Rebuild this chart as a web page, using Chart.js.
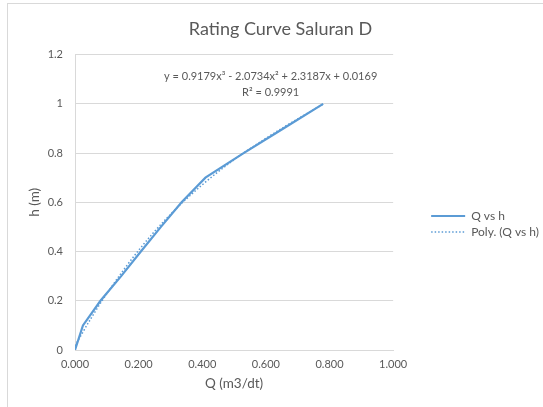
<!DOCTYPE html>
<html>
<head>
<meta charset="utf-8">
<script src="https://cdn.jsdelivr.net/npm/chart.js@4.4.1/dist/chart.umd.min.js"></script>
<style>
  html, body { margin: 0; padding: 0; background: #ffffff; overflow: hidden; }
  #box { position: absolute; left: 7px; top: 3px; width: 546px; height: 420px; border: 1px solid #d9d9d9; }
</style>
</head>
<body>
<div id="box"><canvas id="ratingChart" width="546" height="420"></canvas></div>
<script>
// measured data, Q (m3/dt) vs h (m)
const dischargeQ = [0, 0.025, 0.08, 0.145, 0.207, 0.27, 0.335, 0.41, 0.53, 0.655, 0.78];
const depthH = [0, 0.1, 0.2, 0.3, 0.4, 0.5, 0.6, 0.7, 0.8, 0.9, 1.0];

// dotted polynomial trendline
const trendQ = [0, 0.05, 0.1, 0.2, 0.3, 0.4, 0.5, 0.6, 0.7, 0.78];
const trendH = [0.017, 0.128, 0.229, 0.405, 0.551, 0.671, 0.773, 0.86, 0.939, 0.999];

const xTicks = [0, 0.2, 0.4, 0.6, 0.8, 1.0];
const yTicks = [0, 0.2, 0.4, 0.6, 0.8, 1, 1.2];

const equationText = 'y = 0.9179x³ - 2.0734x² + 2.3187x + 0.0169';
const rSquaredText = 'R² = 0.9991';

const lineColor = '#5b9bd5';
const textColor = '#595959';
const gridColor = '#d9d9d9';
const fontName = 'Lato, "Open Sans", sans-serif';

function toPoints(xs, ys) {
    return xs.map(function (x, i) { return { x: x, y: ys[i] }; });
}

// trendline label, anchored with the chart scales
const equationPlugin = {
    id: 'equationLabel',
    afterDatasetsDraw: function (chart) {
        const ctx = chart.ctx;
        const xs = chart.scales.x;
        const ys = chart.scales.y;
        ctx.save();
        ctx.fillStyle = textColor;
        ctx.font = '11px ' + fontName;
        ctx.textAlign = 'center';
        ctx.textBaseline = 'middle';
        const cx = xs.getPixelForValue(0.615);
        ctx.fillText(equationText, cx, ys.getPixelForValue(1.113));
        ctx.fillText(rSquaredText, cx, ys.getPixelForValue(1.045));
        ctx.restore();
    }
};

// nudge legend and title like the Excel layout
const layoutNudge = {
    id: 'layoutNudge',
    afterLayout: function (chart) {
        const lg = chart.legend;
        lg.left += 34; lg.right += 34;
        lg.top += 21; lg.bottom += 21;
        const tb = chart.titleBlock;
        tb.left += 14; tb.right += 14;
    }
};

const ctx = document.getElementById('ratingChart').getContext('2d');

new Chart(ctx, {
    type: 'scatter',
    data: {
        datasets: [{
            label: 'Q vs h',
            data: toPoints(dischargeQ, depthH),
            showLine: true,
            borderColor: lineColor,
            backgroundColor: lineColor,
            borderWidth: 2.2,
            pointRadius: 0,
            pointStyle: 'line',
            tension: 0
        }, {
            label: 'Poly. (Q vs h)',
            data: toPoints(trendQ, trendH),
            showLine: true,
            borderColor: lineColor,
            backgroundColor: lineColor,
            borderWidth: 1.5,
            borderDash: [1.5, 2],
            pointRadius: 0,
            pointStyle: 'line',
            cubicInterpolationMode: 'monotone'
        }]
    },
    options: {
        responsive: false,
        animation: false,
        layout: { padding: { top: 0, right: 39, bottom: 22, left: 10 } },
        plugins: {
            title: {
                display: true,
                text: 'Rating Curve Saluran D',
                color: textColor,
                font: { family: fontName, size: 18, weight: 'normal' },
                padding: { top: 14, bottom: 15 }
            },
            legend: {
                position: 'right',
                labels: {
                    color: textColor,
                    font: { family: fontName, size: 12 },
                    usePointStyle: true,
                    pointStyleWidth: 34,
                    boxHeight: 8,
                    padding: 4,
                    generateLabels: function (chart) {
                        const items = Chart.defaults.plugins.legend.labels.generateLabels(chart);
                        items.forEach(function (item) {
                            const ds = chart.data.datasets[item.datasetIndex];
                            item.lineDash = ds.borderDash || [];
                            item.lineWidth = ds.borderDash ? 1.3 : 2.2;
                        });
                        return items;
                    }
                }
            },
            tooltip: { enabled: false }
        },
        scales: {
            x: {
                type: 'linear',
                min: 0,
                max: 1,
                afterBuildTicks: function (axis) {
                    axis.ticks = xTicks.map(function (v) { return { value: v }; });
                },
                afterFit: function (axis) { axis.height = 52; },
                grid: { display: false, drawTicks: false },
                border: { display: true, color: gridColor },
                ticks: {
                    color: textColor,
                    font: { family: fontName, size: 11 },
                    padding: 8,
                    maxRotation: 0,
                    callback: function (v) { return v.toFixed(3); }
                },
                title: {
                    display: true,
                    text: 'Q (m3/dt)',
                    color: textColor,
                    font: { family: fontName, size: 13.5 },
                    padding: { top: 4, bottom: 10 }
                }
            },
            y: {
                type: 'linear',
                min: 0,
                max: 1.2,
                afterBuildTicks: function (axis) {
                    axis.ticks = yTicks.map(function (v) { return { value: v }; });
                },
                afterFit: function (axis) { axis.width = 57; },
                grid: { color: gridColor, drawTicks: false },
                border: { display: true, color: gridColor },
                ticks: {
                    color: textColor,
                    font: { family: fontName, size: 11 },
                    padding: 12,
                    callback: function (v) { return String(Math.round(v * 10) / 10); }
                },
                title: {
                    display: true,
                    text: 'h (m)',
                    color: textColor,
                    font: { family: fontName, size: 13.5 },
                    padding: { top: 9, bottom: 0 }
                }
            }
        }
    },
    plugins: [equationPlugin, layoutNudge]
});
</script>
</body>
</html>
